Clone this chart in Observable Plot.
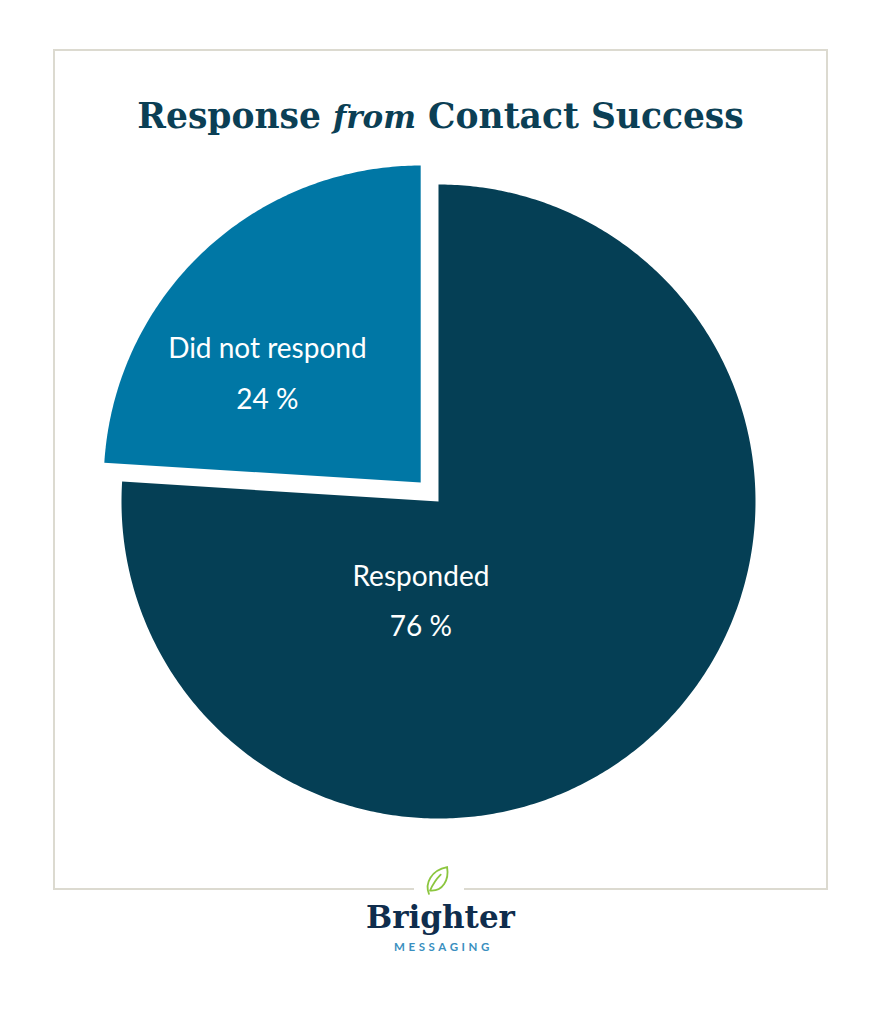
<!DOCTYPE html>
<html><head><meta charset="utf-8">
<script src="https://cdn.jsdelivr.net/npm/d3@7"></script>
<script src="https://cdn.jsdelivr.net/npm/@observablehq/plot@0.6"></script>
<style>
body{margin:0;background:#fff;}
#page{position:relative;width:881px;height:1024px;overflow:hidden;background:#fff;}
#frame{position:absolute;left:53px;top:49px;width:771px;height:837px;border:2px solid #dcdad0;}
#gap{position:absolute;left:414px;top:882px;width:50px;height:10px;background:#fff;}
#title{position:absolute;left:0;width:881px;top:96px;line-height:40px;text-align:center;font-family:"DejaVu Serif",serif;font-weight:bold;font-size:34.5px;color:#0b3f55;white-space:nowrap;}
#title i{font-style:italic;font-size:31px;}
#chart{position:absolute;left:0;top:150px;}
#leaf{position:absolute;left:423px;top:865px;}
#brand{position:absolute;left:0;width:881px;top:900px;text-align:center;font-family:"DejaVu Serif",serif;font-weight:bold;font-size:31px;line-height:34px;color:#0f2d4d;}
#sub{position:absolute;left:3px;width:881px;top:940px;text-align:center;font-family:Lato,sans-serif;font-weight:bold;font-size:11.5px;letter-spacing:3.6px;color:#3a8fc0;line-height:14px;}
</style>
</head><body>
<div id="page">
  <div id="frame"></div>
  <div id="gap"></div>
  <div id="title">Response <i>from</i> Contact Success</div>
  <div id="chart"></div>
  <svg id="leaf" width="29" height="32" viewBox="0 0 26 30"><path d="M5 27 C1 17 7 5 22 2 C24 14 18 25 6 24 M6 24 C9 17 12 13 16 9" fill="none" stroke="#8cc63f" stroke-width="1.7" stroke-linecap="round"/></svg>
  <div id="brand">Brighter</div>
  <div id="sub">MESSAGING</div>
</div>
<script>
const categories = ["Responded", "Did not respond"];
const values = [76, 24];
const percentLabels = ["76 %", "24 %"];
const sliceColors = ["#053f55", "#0077a5"];

const explodeAmount = {"Responded": 0, "Did not respond": 0.082};

const pie = d3.pie().sort(null).value(d => d.value);
const arcs = pie(categories.map((c, i) => ({category: c, value: values[i], label: percentLabels[i]})));

const pts = [];
const labels = [];
for (const a of arcs) {
  const c = a.data.category;
  const mid = (a.startAngle + a.endAngle) / 2;
  const e = explodeAmount[c];
  const ox = e * Math.sin(mid), oy = e * Math.cos(mid);
  pts.push({slice: c, x: ox, y: oy});
  const n = Math.max(8, Math.ceil((a.endAngle - a.startAngle) / 0.01));
  for (let k = 0; k <= n; k++) {
    const t = a.startAngle + (a.endAngle - a.startAngle) * k / n;
    pts.push({slice: c, x: ox + Math.sin(t), y: oy + Math.cos(t)});
  }
  labels.push({slice: c, mid, ox, oy, text: c + "\n" + a.data.label});
}

const R = 317, W = 881, H = 700, cxPx = 438, cyPx = 351;
const small = labels[1], big = labels[0];
const chart = Plot.plot({
  width: W, height: H, margin: 0,
  x: {domain: [-cxPx / R, (W - cxPx) / R], axis: null},
  y: {domain: [-(H - cyPx) / R, cyPx / R], axis: null},
  color: {domain: categories, range: sliceColors},
  style: {background: "transparent", overflow: "visible"},
  marks: [
    Plot.line(pts, {x: "x", y: "y", z: "slice", fill: "slice", stroke: "none", curve: "linear-closed"}),
    Plot.text([small], {
      x: d => d.ox + 0.55 * Math.sin(d.mid), y: d => d.oy + 0.55 * Math.cos(d.mid),
      text: "text", dx: -34, dy: 12, lineAnchor: "middle", lineHeight: 1.8,
      fill: "white", fontSize: 28, fontFamily: "Lato, sans-serif"
    }),
    Plot.text([big], {
      x: d => 0.2 * Math.sin(d.mid), y: d => 0.2 * Math.cos(d.mid),
      text: "text", dx: -61, dy: 47, lineAnchor: "middle", lineHeight: 1.8,
      fill: "white", fontSize: 28, fontFamily: "Lato, sans-serif"
    })
  ]
});
document.getElementById("chart").appendChild(chart);
</script>
</body></html>
